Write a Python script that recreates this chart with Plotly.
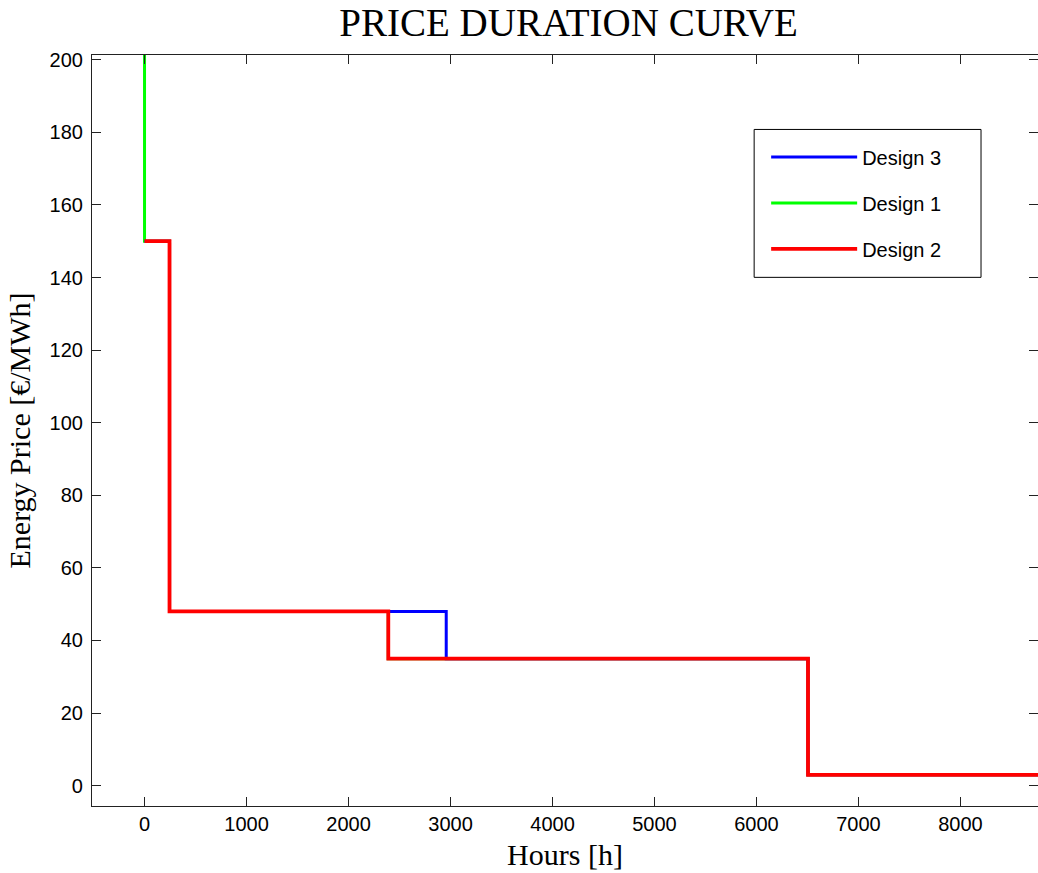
import plotly.graph_objects as go

# Step breakpoints (hours) and price levels (EUR/MWh)
design1_hours = [0, 0, 245, 2390, 6505, 8760]
design1_price = [205, 150, 48, 35, 3, 3]

design3_hours = [0, 245, 2958, 6505, 8760]
design3_price = [150, 48, 35, 3, 3]

design2_hours = [0, 245, 2390, 6505, 8760]
design2_price = [150, 48, 35, 3, 3]

x_ticks = [0, 1000, 2000, 3000, 4000, 5000, 6000, 7000, 8000]
y_ticks = [0, 20, 40, 60, 80, 100, 120, 140, 160, 180, 200]

SERIF = "Liberation Serif, Times New Roman, serif"
SANS = "Liberation Sans, Arial, sans-serif"

fig = go.Figure()
fig.add_trace(go.Scatter(x=design1_hours, y=design1_price, mode="lines", line_shape="hv",
                         line=dict(color="#00ff00", width=3), name="Design 1",
                         legendrank=2, legendgroup="d1"))
fig.add_trace(go.Scatter(x=design3_hours, y=design3_price, mode="lines", line_shape="hv",
                         line=dict(color="#0000ff", width=3), name="Design 3",
                         legendrank=1, legendgroup="d3"))
fig.add_trace(go.Scatter(x=design2_hours, y=design2_price, mode="lines", line_shape="hv",
                         line=dict(color="#ff0000", width=3.8), name="Design 2",
                         legendrank=3, legendgroup="d2"))

W, H = 1038, 873
L, R, T, B = 91.5, 0, 54.5, 67
pw = W - L - R
ph = H - T - B

def px_x(p):
    return (p - L) / pw

def px_y(p):
    return (H - B - p) / ph

axis_common = dict(
    showline=True, linecolor="#222222", linewidth=1.2, mirror="allticks",
    ticks="inside", ticklen=9, tickcolor="#222222", tickwidth=1,
    showgrid=False, zeroline=False,
    tickfont=dict(family=SANS, size=20, color="black"),
)

fig.update_layout(
    width=W, height=H,
    margin=dict(l=L, r=R, t=T, b=B, pad=0),
    paper_bgcolor="white", plot_bgcolor="white",
    title=dict(text="PRICE DURATION CURVE", font=dict(family=SERIF, size=39, color="black"),
               x=568.5 / W, xref="container", xanchor="center",
               y=1 - 22 / H, yref="container", yanchor="middle"),
    xaxis=dict(range=[-515, 8760], tickvals=x_ticks,
               title=dict(text="Hours [h]", font=dict(family=SERIF, size=30, color="black"), standoff=9),
               **axis_common),
    yaxis=dict(range=[-5.6, 201.3], tickvals=y_ticks, ticklabelstandoff=4,
               title=dict(text="Energy Price [€/MWh]", font=dict(family=SERIF, size=30, color="black"), standoff=10),
               **axis_common),
    showlegend=True,
    legend=dict(x=px_x(766), y=px_y(137), xanchor="left", yanchor="top",
                bgcolor="rgba(0,0,0,0)", borderwidth=0,
                font=dict(family=SANS, size=20, color="black"),
                itemwidth=86, tracegroupgap=17, traceorder="grouped"),
    shapes=[dict(type="rect", xref="paper", yref="paper",
                 x0=px_x(754), x1=px_x(981), y0=px_y(277), y1=px_y(129),
                 line=dict(color="black", width=1), fillcolor="white", layer="above")],
)

fig.write_html("out.html", config={"displayModeBar": False},
               post_script="document.body.style.margin='0';document.body.style.overflow='hidden';")
